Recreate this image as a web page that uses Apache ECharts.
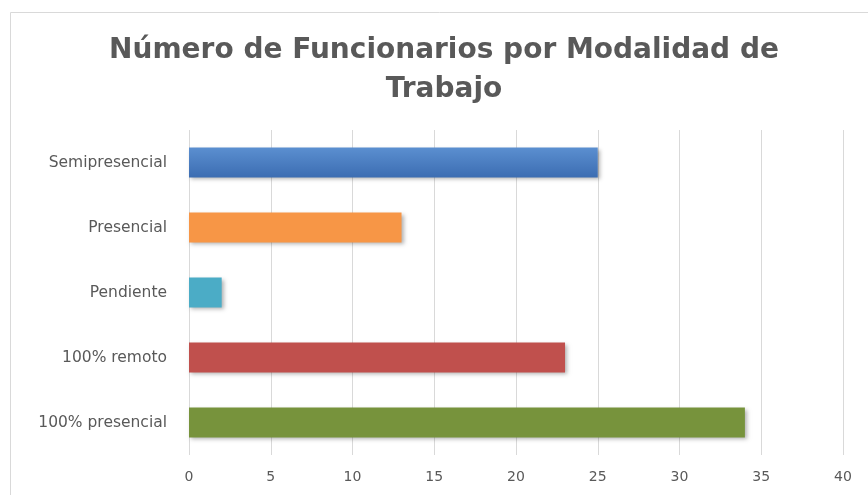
<!DOCTYPE html>
<html>
<head>
<meta charset="utf-8">
<script src="https://cdn.jsdelivr.net/npm/echarts@6/dist/echarts.min.js"></script>
<style>
  html, body { margin: 0; padding: 0; background: #fff; }
  #chart { width: 868px; height: 495px; }
</style>
</head>
<body>
<div id="chart"></div>
<script>
const categories = ["Semipresencial", "Presencial", "Pendiente", "100% remoto", "100% presencial"];
const values = [25, 13, 2, 23, 34];
const barColors = ["#4a7ebf", "#f79646", "#4bacc6", "#c0504d", "#77933c"];
const xTicks = { min: 0, max: 40, interval: 5 };

const chart = echarts.init(document.getElementById("chart"));

const barData = values.map((v, i) => ({
  value: v,
  itemStyle: {
    color: i === 0
      ? new echarts.graphic.LinearGradient(0, 0, 0, 1, [
          { offset: 0, color: "#5b8fd0" },
          { offset: 1, color: "#3c6db2" },
        ])
      : barColors[i],
  },
}));

const option = {
  animation: false,
  textStyle: { fontFamily: "DejaVu Sans" },
  title: {
    text: "Número de Funcionarios por Modalidad de\nTrabajo",
    left: 439,
    top: 26,
    textAlign: "center",
    textStyle: {
      fontFamily: "DejaVu Sans",
      fontWeight: "bold",
      fontSize: 28,
      lineHeight: 39,
      color: "#595959",
    },
  },
  graphic: [
    {
      type: "rect",
      shape: { x: 10.5, y: 12.5, width: 900, height: 500 },
      style: { fill: null, stroke: "#d9d9d9", lineWidth: 1 },
      silent: true,
    },
  ],
  grid: { left: 189, right: 25, top: 130, bottom: 40 },
  xAxis: {
    type: "value",
    min: xTicks.min,
    max: xTicks.max,
    interval: xTicks.interval,
    axisLine: { show: false },
    axisTick: { show: false },
    axisLabel: { color: "#595959", fontSize: 14, margin: 15 },
    splitLine: { show: true, lineStyle: { color: "#d9d9d9", width: 1 } },
  },
  yAxis: {
    type: "category",
    inverse: true,
    data: categories,
    axisLine: { show: false },
    axisTick: { show: false },
    axisLabel: { color: "#595959", fontSize: 15.5, margin: 22 },
  },
  series: [
    {
      type: "bar",
      data: barData,
      barWidth: "46%",
      itemStyle: {
        shadowBlur: 4,
        shadowOffsetX: 2,
        shadowOffsetY: 2,
        shadowColor: "rgba(0,0,0,0.3)",
      },
    },
  ],
};

chart.setOption(option);
</script>
</body>
</html>
